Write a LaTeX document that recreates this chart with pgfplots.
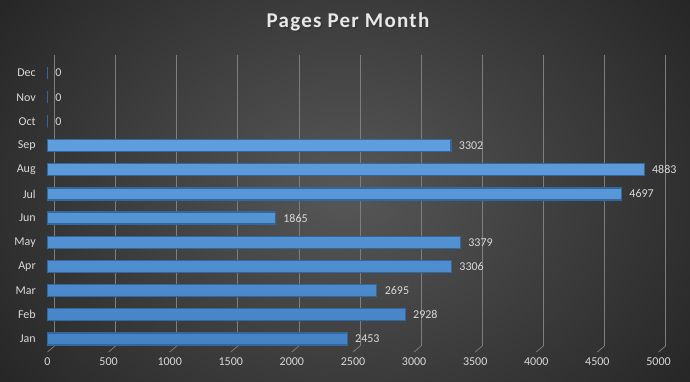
\documentclass[border=0pt]{standalone}
\usepackage{pgfplots}
\pgfplotsset{compat=1.18}
\usepackage{fontspec}
\setmainfont{Carlito}
\newfontfamily\titlefont[LetterSpace=6]{Carlito}
\definecolor{bgin}{HTML}{575757}
\definecolor{bgout}{HTML}{262626}
\definecolor{gridc}{HTML}{7E7E7E}
\definecolor{txt}{HTML}{D9D9D9}
\definecolor{bartop}{HTML}{68A8E4}
\definecolor{barbot}{HTML}{4482C6}
\definecolor{baredge}{HTML}{35679F}
\begin{document}
\begin{tikzpicture}[x=1pt,y=1pt]
\path[use as bounding box, clip] (0,0) rectangle (690,382);
\shade[inner color=bgin, outer color=bgout] (-80,-140) rectangle (770,522);
% back wall grid
\begin{axis}[at={(54.5pt,36pt)}, anchor=south west, scale only axis,
  width=611pt, height=291pt, xmin=0, xmax=5000, ymin=-0.54, ymax=11.5,
  axis line style={draw=none}, tick style={draw=none},
  xmajorgrids, xtick={0,500,...,5000}, ytick=\empty, xticklabels={},
  grid style={gridc, line width=0.75pt}]
\addplot[draw=none] coordinates {(0,0)};
\end{axis}
% front bars
\begin{axis}[at={(47.5pt,30pt)}, anchor=south west, scale only axis,
  width=611pt, height=291pt, xmin=0, xmax=5000, ymin=-0.54, ymax=11.5,
  axis line style={draw=none}, tick style={draw=none},
  xtick={0,500,...,5000},
  ytick={0,...,11},
  yticklabels={Jan,Feb,Mar,Apr,May,Jun,Jul,Aug,Sep,Oct,Nov,Dec},
  tick label style={font=\fontsize{12}{14}\selectfont, text=txt},
  /pgf/number format/assume math mode=true,
  /pgf/number format/1000 sep={},
  xticklabel style={yshift=-2pt},
  yticklabel style={xshift=-4pt},
  xbar, bar width=12pt,
  nodes near coords,
  every node near coord/.append style={font=\fontsize{12}{14}\selectfont, text=txt, xshift=4pt},
  clip=false]
\pgfplotsinvokeforeach{0,500,...,5000}{
  \draw[gridc, line width=0.75pt] (axis cs:#1,-0.54) -- ++(7pt,6pt);
}
\addplot[top color=bartop, bottom color=barbot, draw=baredge, line width=1.2pt]
  coordinates {(2453,0) (2928,1) (2695,2) (3306,3) (3379,4) (1865,5) (4697,6) (4883,7) (3302,8) (0,9) (0,10) (0,11)};
\end{axis}
\node[text=black!80, opacity=0.6, font=\titlefont\bfseries\fontsize{21}{24}\selectfont] at (349.5,358.5) {Pages Per Month};
\node[text=txt!60!white, font=\titlefont\bfseries\fontsize{21}{24}\selectfont] at (348,360) {Pages Per Month};
\end{tikzpicture}
\end{document}
